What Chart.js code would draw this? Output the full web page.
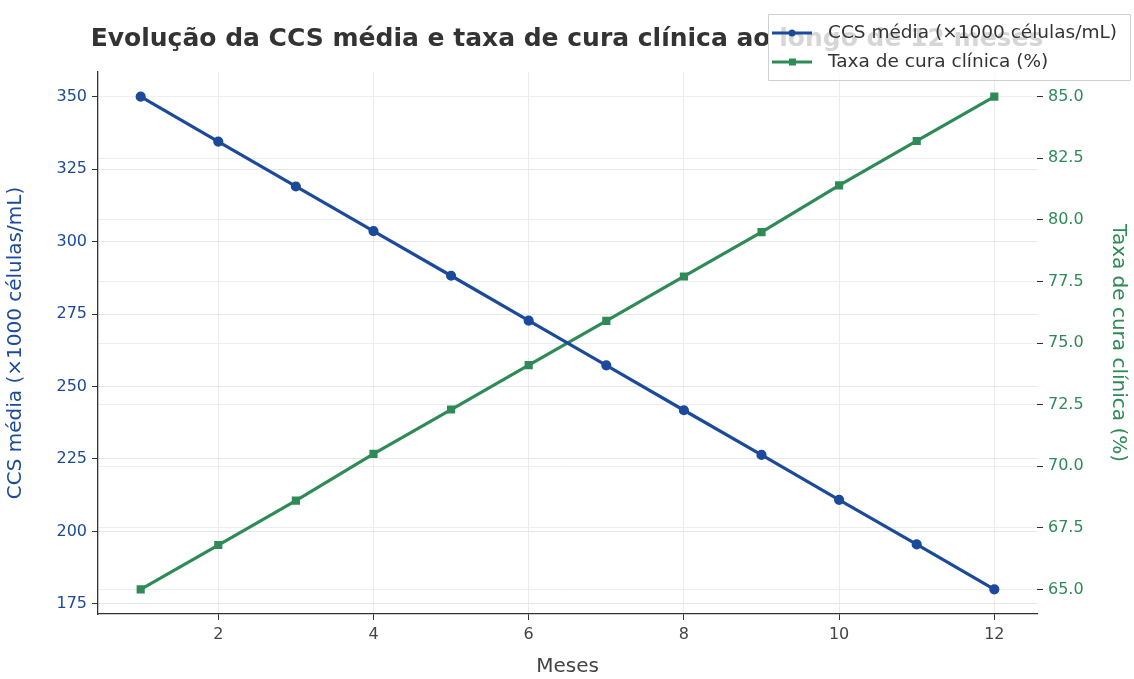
<!DOCTYPE html>
<html lang="pt">
<head>
<meta charset="utf-8">
<title>CCS e taxa de cura</title>
<script src="https://cdn.jsdelivr.net/npm/chart.js"></script>
<style>
  html, body { margin: 0; padding: 0; background: #ffffff; }
  #wrap { width: 1134px; height: 679px; }
</style>
</head>
<body>
<div id="wrap"><canvas id="chart" width="1134" height="679"></canvas></div>
<script>
// valores
var meses = [1, 2, 3, 4, 5, 6, 7, 8, 9, 10, 11, 12];
var ccsMedia = [350, 334.5, 319, 303.6, 288.2, 272.7, 257.3, 241.8, 226.4, 210.9, 195.5, 180];
var taxaCura = [65, 66.8, 68.6, 70.5, 72.3, 74.1, 75.9, 77.7, 79.5, 81.4, 83.2, 85];
var xTicks = [2, 4, 6, 8, 10, 12];
var ccsTicks = [175, 200, 225, 250, 275, 300, 325, 350];
var taxaTicks = [65, 67.5, 70, 72.5, 75, 77.5, 80, 82.5, 85];

var azul = '#1c4a9a';
var verde = '#2e8b57';
var fonte = 'DejaVu Sans';

function pts(ys) {
  return meses.map(function (m, i) { return { x: m, y: ys[i] }; });
}
function fixTicks(list) {
  return function (scale) { scale.ticks = list.map(function (v) { return { value: v }; }); };
}

// legenda desenhada por cima do título, como no original
var legendaPlugin = {
  id: 'legendaTopo',
  afterDraw: function (chart) {
    var ctx = chart.ctx;
    var x0 = 768, y0 = 14, w = 362, h = 66;
    ctx.save();
    ctx.fillStyle = 'rgba(255,255,255,0.8)';
    ctx.strokeStyle = '#d0d0d0';
    ctx.lineWidth = 1;
    ctx.beginPath();
    ctx.rect(x0 + 0.5, y0 + 0.5, w, h);
    ctx.fill();
    ctx.stroke();
    var itens = [
      { txt: 'CCS média (×1000 células/mL)', cor: azul, y: y0 + 19, quad: false },
      { txt: 'Taxa de cura clínica (%)', cor: verde, y: y0 + 48, quad: true }
    ];
    itens.forEach(function (it) {
      ctx.strokeStyle = it.cor;
      ctx.lineWidth = 3;
      ctx.beginPath();
      ctx.moveTo(x0 + 4, it.y);
      ctx.lineTo(x0 + 44, it.y);
      ctx.stroke();
      ctx.fillStyle = it.cor;
      ctx.beginPath();
      if (it.quad) ctx.rect(x0 + 21, it.y - 3.5, 7, 7);
      else ctx.arc(x0 + 24, it.y, 3.5, 0, Math.PI * 2);
      ctx.fill();
      ctx.fillStyle = '#333';
      ctx.font = '18.5px "' + fonte + '"';
      ctx.textBaseline = 'middle';
      ctx.fillText(it.txt, x0 + 60, it.y);
    });
    ctx.restore();
  }
};

new Chart(document.getElementById('chart'), {
  type: 'line',
  data: {
    datasets: [{
      label: 'CCS média (×1000 células/mL)',
      data: pts(ccsMedia),
      borderColor: azul,
      backgroundColor: azul,
      borderWidth: 3.2,
      pointRadius: 3.5,
      pointHoverRadius: 3.5,
      yAxisID: 'y',
      fill: false
    }, {
      label: 'Taxa de cura clínica (%)',
      data: pts(taxaCura),
      borderColor: verde,
      backgroundColor: verde,
      borderWidth: 3.2,
      pointRadius: 3.5,
      pointStyle: 'rect',
      pointHoverRadius: 3.5,
      yAxisID: 'y1',
      fill: false
    }]
  },
  options: {
    responsive: false,
    animation: false,
    layout: { padding: 0 },
    plugins: {
      legend: { display: false },
      tooltip: { enabled: false },
      title: {
        display: true,
        text: 'Evolução da CCS média e taxa de cura clínica ao longo de 12 meses',
        color: '#333333',
        font: { family: fonte, size: 25, weight: 'bold' },
        padding: { top: 24, bottom: 18 }
      }
    },
    scales: {
      x: {
        type: 'linear',
        min: 0.45,
        max: 12.55,
        afterBuildTicks: fixTicks(xTicks),
        afterFit: function (s) { s.height = 65; },
        grid: { color: '#ececec', tickColor: '#333', tickLength: 6 },
        border: { display: true, color: '#333', width: 1.3 },
        ticks: { color: '#444', font: { family: fonte, size: 16 }, padding: 5 },
        title: { display: true, text: 'Meses', color: '#444', font: { family: fonte, size: 20 }, padding: { top: 2, bottom: 0 } }
      },
      y: {
        position: 'left',
        min: 171.5,
        max: 358.5,
        afterBuildTicks: fixTicks(ccsTicks),
        afterFit: function (s) { s.width = 98; },
        grid: { color: '#e6e6e6', tickColor: '#333', tickLength: 6 },
        border: { display: true, color: '#333', width: 1.3 },
        ticks: { color: azul, font: { family: fonte, size: 16 }, padding: 5 },
        title: { display: true, text: 'CCS média (×1000 células/mL)', color: azul, font: { family: fonte, size: 20 }, padding: { top: 4, bottom: 4 } }
      },
      y1: {
        position: 'right',
        min: 64,
        max: 86,
        afterBuildTicks: fixTicks(taxaTicks),
        afterFit: function (s) { s.width = 97; },
        grid: { color: '#eeeeee', tickColor: '#333', tickLength: 6 },
        border: { display: false },
        ticks: {
          color: verde, font: { family: fonte, size: 16 }, padding: 5,
          callback: function (v) { return Number(v).toFixed(1); }
        },
        title: { display: true, text: 'Taxa de cura clínica (%)', color: verde, font: { family: fonte, size: 20 }, padding: { top: 4, bottom: 4 } }
      }
    }
  },
  plugins: [legendaPlugin]
});
</script>
</body>
</html>
